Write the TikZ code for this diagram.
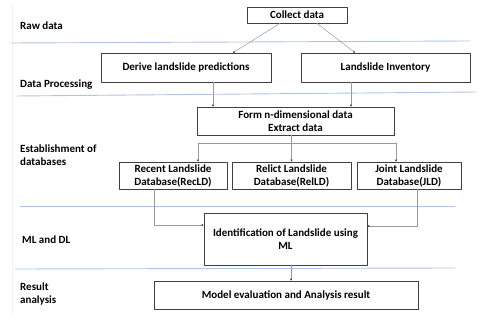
\documentclass[tikz,border=0pt]{standalone}
\usepackage{fontspec}
\setmainfont{Carlito}
\usepackage{tikz}
\usetikzlibrary{arrows.meta,shadows,calc}

\definecolor{sepcol}{RGB}{176,196,228}
\colorlet{linecol}{gray!80}
\tikzset{
  box/.style={draw=black!75, line width=0.7pt, fill=white, align=center,
    font=\fontsize{11}{13}\selectfont\bfseries, inner sep=2pt,
    drop shadow={shadow xshift=1.3pt, shadow yshift=-1.3pt, fill=black!45, opacity=0.7}},
  lanelabel/.style={anchor=west, align=left, inner sep=0pt,
    font=\fontsize{11}{13}\selectfont\bfseries},
  sepline/.style={sepcol, line width=0.9pt},
  flow/.style={linecol, line width=0.5pt, -{Stealth[length=2.2pt,width=2.2pt,black!80]}}
}

\begin{document}
\begin{tikzpicture}[x=1pt, y=-1pt, line cap=round, line join=round]
  \useasboundingbox (0,0) rectangle (498,320);
  % lanes
  \draw[gray!12, line width=0.5pt] (12,5) -- (12,313);
  \draw[sepline] (11,43) -- (470,41);
  \draw[sepline] (17,96) -- (476,92);
  \draw[sepline] (20,206) -- (455,206);
  \draw[sepline] (15,269) -- (455,268);
  \node[lanelabel] (raw) at (20,26) {Raw data};
  \node[lanelabel] (proc) at (20,85) {Data Processing};
  \node[lanelabel] (estab) at (20,155) {Establishment of\\databases};
  \node[lanelabel] (mldl) at (22,240) {ML and DL};
  \node[lanelabel] (res) at (20,294) {Result\\analysis};
  % boxes
  \node[box, minimum width=100pt, minimum height=16pt] (collect) at (297,15) {Collect data};
  \node[box, minimum width=170pt, minimum height=29pt] (derive) at (186,67.5) {Derive landslide predictions};
  \node[box, minimum width=169pt, minimum height=29pt] (inventory) at (385.5,67.5) {Landslide Inventory};
  \node[box, minimum width=197pt, minimum height=28pt] (form) at (295.5,121) {Form n-dimensional data\\Extract data};
  \node[box, minimum width=108pt, minimum height=27pt] (recent) at (173,175.5) {Recent Landslide\\Database(RecLD)};
  \node[box, minimum width=119pt, minimum height=27pt] (relict) at (291.5,175.5) {Relict Landslide\\Database(RelLD)};
  \node[box, minimum width=104pt, minimum height=27pt] (joint) at (409,175.5) {Joint Landslide\\Database(JLD)};
  \node[box, minimum width=163pt, minimum height=52pt] (ident) at (285.5,239) {Identification of Landslide using\\ML};
  \node[box, minimum width=264pt, minimum height=28pt] (model) at (286,295) {Model evaluation and Analysis result};
  % connectors
  \draw[flow] ([xshift=-17pt]collect.south) -- ([xshift=47pt]derive.north);
  \draw[flow] ([xshift=20pt]collect.south) -- ([xshift=-30.5pt]inventory.north);
  \draw[flow] ([xshift=27pt]derive.south) -- ([xshift=27pt]derive.south |- form.north);
  \draw[flow] ([xshift=-34.5pt]inventory.south) -- ([xshift=-34.5pt]inventory.south |- form.north);
  \coordinate (forkl) at (198,143);
  \coordinate (forkr) at (396,143);
  \draw[linecol, line width=0.5pt] (forkl) -- (forkr);
  \draw[flow] (relict.north |- form.south) -- (relict.north);
  \draw[flow] (forkl) -- (forkl |- recent.north);
  \draw[flow] (forkr) -- (forkr |- joint.north);
  \draw[flow] ([xshift=-19pt]recent.south) |- ([yshift=14pt]ident.west);
  \draw[flow] ([xshift=8pt]joint.south) |- ([yshift=13pt]ident.east);
  \draw[flow] ([xshift=5.5pt]ident.south) -- ([xshift=5.5pt]ident.south |- model.north);
\end{tikzpicture}
\end{document}
